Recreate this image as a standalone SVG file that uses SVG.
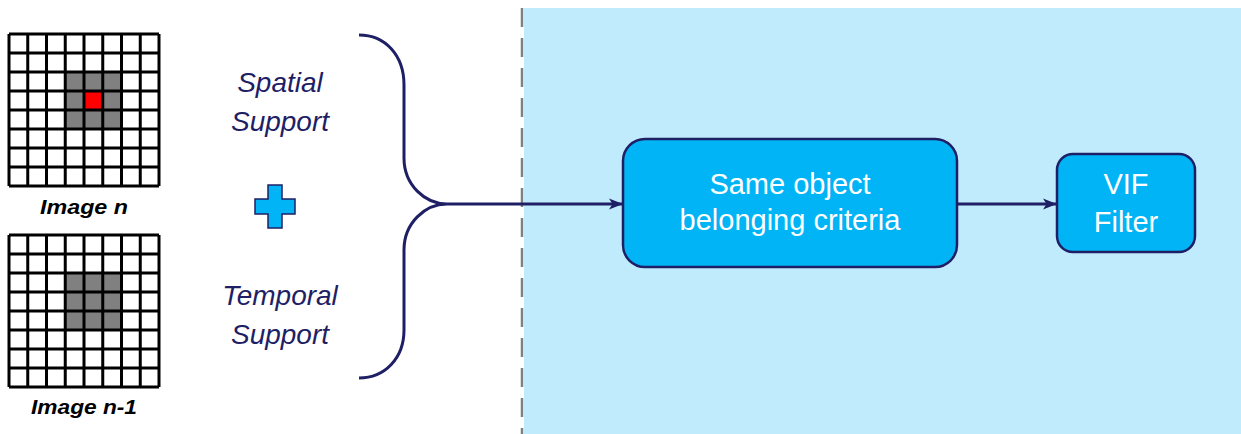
<svg xmlns="http://www.w3.org/2000/svg" width="1241" height="434" viewBox="0 0 1241 434">
  <style>
    .grid-line { stroke: #000; stroke-width: 3; fill: none; }
    .cell-gray { fill: #808080; }
    .cell-red { fill: #ff0000; }
    .img-label { font-family: "Liberation Sans", Arial, sans-serif; font-style: italic; font-weight: bold; font-size: 20px; fill: #000; text-anchor: middle; }
    .support { font-family: "Liberation Sans", Arial, sans-serif; font-style: italic; font-size: 28px; fill: #1f1f66; text-anchor: middle; }
    .box { fill: #00b4f6; stroke: #1f1f66; stroke-width: 2.5; }
    .box-text { font-family: "Liberation Sans", Arial, sans-serif; font-size: 29px; fill: #ffffff; text-anchor: middle; }
    .conn { stroke: #1f1f66; stroke-width: 3; fill: none; }
  </style>
  <defs>
    <marker id="arrow" viewBox="0 0 14 12" refX="13" refY="6" markerWidth="14" markerHeight="12" markerUnits="userSpaceOnUse" orient="auto">
      <path d="M0,0.5 L14,6 L0,11.5 L3.5,6 Z" fill="#1f1f66"/>
    </marker>
    <!-- 8x8 pixel grid, 150 x 152 -->
    <g id="grid-lines">
      <path class="grid-line" d="M9,0 V152 M27.75,0 V152 M46.5,0 V152 M65.25,0 V152 M84,0 V152 M102.75,0 V152 M121.5,0 V152 M140.25,0 V152 M159,0 V152
                                 M9,0 H159 M9,19 H159 M9,38 H159 M9,57 H159 M9,76 H159 M9,95 H159 M9,114 H159 M9,133 H159 M9,152 H159"/>
    </g>
  </defs>

  <!-- shaded processing area -->
  <rect x="524" y="8" width="717" height="426" fill="#c0ebfd"/>
  <line x1="522" y1="8" x2="522" y2="434" stroke="#808080" stroke-width="2.5" stroke-dasharray="19,11"/>

  <!-- current frame -->
  <g id="image-n">
    <rect x="9" y="34" width="150" height="152" fill="#ffffff"/>
    <rect class="cell-gray" x="65.25" y="72" width="56.25" height="57"/>
    <rect class="cell-red" x="84" y="91" width="18.75" height="19"/>
    <use href="#grid-lines" x="0" y="34"/>
    <text class="img-label" x="84" y="214" textLength="88" lengthAdjust="spacingAndGlyphs">Image n</text>
  </g>

  <!-- previous frame -->
  <g id="image-n-1">
    <rect x="9" y="235" width="150" height="152" fill="#ffffff"/>
    <rect class="cell-gray" x="65.25" y="273" width="56.25" height="57"/>
    <use href="#grid-lines" x="0" y="235"/>
    <text class="img-label" x="84" y="414" textLength="106" lengthAdjust="spacingAndGlyphs">Image n-1</text>
  </g>

  <g id="spatial-support">
    <text class="support" x="280" y="92">Spatial</text>
    <text class="support" x="280" y="131">Support</text>
  </g>

  <g id="plus">
    <path d="M268,185 H282 V199 H295 V214 H282 V228 H268 V214 H255 V199 H268 Z" fill="#00b4f6" stroke="#1f1f66" stroke-width="1.5"/>
  </g>

  <g id="temporal-support">
    <text class="support" x="280" y="305">Temporal</text>
    <text class="support" x="280" y="344">Support</text>
  </g>

  <g id="connectors">
    <!-- brace joining both supports -->
    <path class="conn" d="M359,35 C385,35 404,55 404,85 V158 C404,185 425,204 447,204 C425,204 404,223 404,250 V330 C404,358 385,378 359,378"/>
    <line class="conn" x1="447" y1="204" x2="622" y2="204" marker-end="url(#arrow)"/>
    <line class="conn" x1="957" y1="204" x2="1056" y2="204" marker-end="url(#arrow)"/>
  </g>

  <g id="criteria">
    <rect class="box" x="623" y="139" width="334" height="128" rx="22" ry="22"/>
    <text class="box-text" x="790" y="194">Same object</text>
    <text class="box-text" x="790" y="230">belonging criteria</text>
  </g>

  <g id="vif-filter">
    <rect class="box" x="1057" y="154" width="138" height="98" rx="16" ry="16"/>
    <text class="box-text" x="1126" y="194">VIF</text>
    <text class="box-text" x="1126" y="232">Filter</text>
  </g>
</svg>
